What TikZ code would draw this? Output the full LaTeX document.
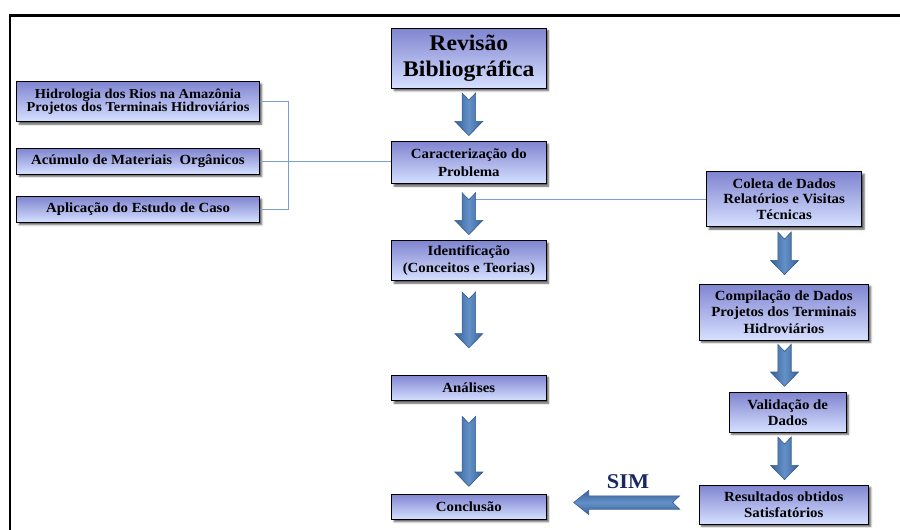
\documentclass[tikz,border=0pt]{standalone}
\usepackage{fontspec}
\setmainfont{Liberation Serif}[FakeStretch=1.06]
\usetikzlibrary{calc,shadows.blur}
\definecolor{boxtop}{RGB}{128,133,208}
\definecolor{boxbot}{RGB}{214,224,255}
\definecolor{connc}{RGB}{120,160,210}
\definecolor{arrc}{RGB}{82,132,194}
\definecolor{arrd}{RGB}{52,92,146}
\definecolor{navy}{RGB}{25,40,100}
\begin{document}
\begin{tikzpicture}[x=1pt,y=-1pt,
  box/.style={draw=black, line width=0.8pt, top color=boxtop, bottom color=boxbot,
    inner sep=0pt, align=center, font=\bfseries\fontsize{14}{16}\selectfont,
    blur shadow={shadow xshift=2.4pt, shadow yshift=-2.4pt, shadow blur steps=4, shadow opacity=65}},
  conn/.style={draw=connc, line width=0.9pt},
  blkdown/.style={draw=arrd, line width=0.6pt, left color=arrd!85!arrc, right color=arrd!85!arrc, middle color=arrc!90!white,
    to path={let \p1=(\tikztostart), \p2=(\tikztotarget) in
      (\x1-6.7pt,\y1) -- (\x1,\y1-7pt) -- (\x1+6.7pt,\y1) -- (\x1+6.7pt,\y2+14.3pt)
      -- (\x1+14pt,\y2+14.3pt) -- (\x1,\y2) -- (\x1-14pt,\y2+14.3pt) -- (\x1-6.7pt,\y2+14.3pt) -- cycle}},
  blkleft/.style={draw=arrd, line width=0.6pt, top color=arrd!85!arrc, bottom color=arrd!85!arrc, middle color=arrc!90!white,
    to path={let \p1=(\tikztostart), \p2=(\tikztotarget) in
      (\x1,\y1+6.7pt) -- (\x1-7pt,\y1) -- (\x1,\y1-6.7pt) -- (\x2+15pt,\y1-6.7pt)
      -- (\x2+15pt,\y1-12pt) -- (\x2,\y1) -- (\x2+15pt,\y1+12pt) -- (\x2+15pt,\y1+6.7pt) -- cycle}},
]
\useasboundingbox (0,0) rectangle (900,530);
\draw[line width=2.7pt] (10,540) -- (10,15.3) -- (910,15.3);

% main column
\node[box, minimum width=154.3, minimum height=60, font=\bfseries\fontsize{22.3}{26.7}\selectfont] (rev) at (468.85,58.3) {Revisão\\Bibliográfica};
\node[box, minimum width=154.3, minimum height=42, font=\bfseries\fontsize{14}{17.5}\selectfont] (car) at (468.85,162.7) {Caracterização do\\Problema};
\node[box, minimum width=154.3, minimum height=40, font=\bfseries\fontsize{14}{16.7}\selectfont] (iden) at (468.85,260.7) {Identificação\\(Conceitos e Teorias)};
\node[box, minimum width=154.3, minimum height=25.7] (ana) at (468.85,387.85) {Análises};
\node[box, minimum width=154.3, minimum height=25.3] (conc) at (468.85,506.65) {Conclusão};

% left column
\node[box, minimum width=242.6, minimum height=40, font=\bfseries\fontsize{13.6}{13.5}\selectfont] (hid) at (138,101.7) {Hidrologia dos Rios na Amazônia\\Projetos dos Terminais Hidroviários};
\node[box, minimum width=242.6, minimum height=25.7] (acu) at (138,161.15) {Acúmulo de Materiais~ Orgânicos};
\node[box, minimum width=242.6, minimum height=25.6] (apl) at (138,209.5) {Aplicação do Estudo de Caso};

% right column
\node[box, minimum width=155, minimum height=55, font=\bfseries\fontsize{14}{15.5}\selectfont] (col) at (784.2,199.2) {Coleta de Dados\\Relatórios e Visitas\\Técnicas};
\node[box, minimum width=169, minimum height=56, font=\bfseries\fontsize{14}{16.7}\selectfont] (comp) at (783.8,312) {Compilação de Dados\\Projetos dos Terminais\\Hidroviários};
\node[box, minimum width=116.7, minimum height=39.3, font=\bfseries\fontsize{14}{16}\selectfont] (val) at (787.65,412.35) {Validação de\\Dados};
\node[box, minimum width=169, minimum height=39, font=\bfseries\fontsize{14}{16}\selectfont] (res) at (783.8,504.5) {Resultados obtidos\\Satisfatórios};

\node[text=navy, font=\bfseries\fontsize{21}{22}\selectfont, inner sep=0pt] (sim) at (628,482) {SIM};

% thin connectors
\draw[conn] (hid.east) -- ++(29,0) |- (apl.east);
\draw[conn] (acu.east) -- (acu.east -| car.west);
\draw[conn] (col.west) -- (col.west -| car.south);

% block arrows
\path[blkdown] ($(rev.south)+(0,4.4)$) to ($(car.north)+(0,-5.7)$);
\path[blkdown] ($(car.south)+(0,8.7)$) to ($(iden.north)+(0,-5.7)$);
\path[blkdown] ($(iden.south)+(0,11)$) to ($(ana.north)+(0,-26.7)$);
\path[blkdown] ($(ana.south)+(0,15.3)$) to ($(conc.north)+(0,-7.3)$);
\path[blkdown] ($(col.south)+(0.3,5)$) to ($(comp.north)+(0,-9)$);
\path[blkdown] ($(comp.south)+(0.7,4)$) to ($(val.north)+(0,-6)$);
\path[blkdown] ($(val.south -| res.north)+(0.7,4.7)$) to ($(res.north)+(0,-5)$);
\path[blkleft] ($(res.west)+(-19.3,-2)$) to ($(conc.east)+(27.3,0)$);
\end{tikzpicture}
\end{document}
